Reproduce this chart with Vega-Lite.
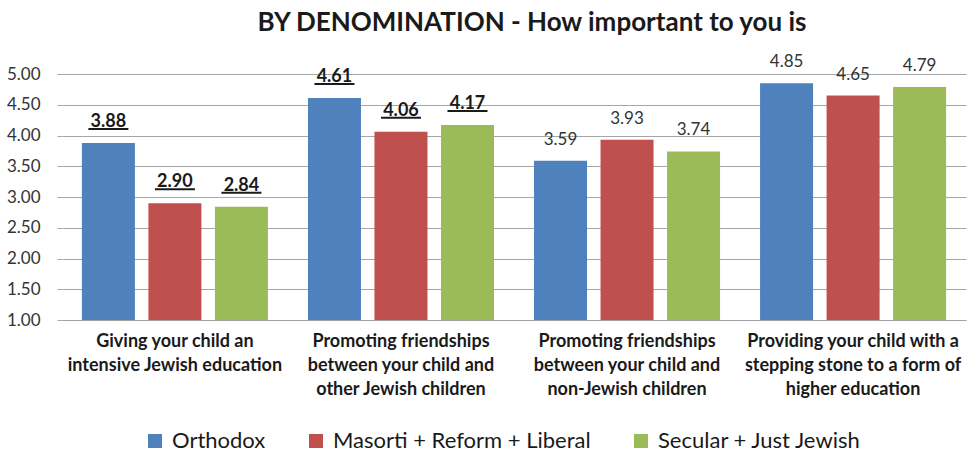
{
  "$schema": "https://vega.github.io/schema/vega-lite/v6.json",
  "autosize": "none",
  "width": 904,
  "height": 246,
  "padding": {"left": 62, "top": 74, "right": 3, "bottom": 132},
  "background": "white",
  "config": {
    "font": "Lato",
    "view": {"stroke": null}
  },
  "title": {
    "text": "BY DENOMINATION - How important to you is",
    "fontSize": 26,
    "fontWeight": "bold",
    "font": "Lato",
    "color": "#1a1a1a",
    "anchor": "middle",
    "dx": 18,
    "offset": 17
  },
  "data": {
    "values": [
      {"category": "Giving your child an intensive Jewish education", "group": "Orthodox", "value": 3.88},
      {"category": "Giving your child an intensive Jewish education", "group": "Masorti + Reform + Liberal", "value": 2.90},
      {"category": "Giving your child an intensive Jewish education", "group": "Secular + Just Jewish", "value": 2.84},
      {"category": "Promoting friendships between your child and other Jewish children", "group": "Orthodox", "value": 4.61},
      {"category": "Promoting friendships between your child and other Jewish children", "group": "Masorti + Reform + Liberal", "value": 4.06},
      {"category": "Promoting friendships between your child and other Jewish children", "group": "Secular + Just Jewish", "value": 4.17},
      {"category": "Promoting friendships between your child and non-Jewish children", "group": "Orthodox", "value": 3.59},
      {"category": "Promoting friendships between your child and non-Jewish children", "group": "Masorti + Reform + Liberal", "value": 3.93},
      {"category": "Promoting friendships between your child and non-Jewish children", "group": "Secular + Just Jewish", "value": 3.74},
      {"category": "Providing your child with a stepping stone to a form of higher education", "group": "Orthodox", "value": 4.85},
      {"category": "Providing your child with a stepping stone to a form of higher education", "group": "Masorti + Reform + Liberal", "value": 4.65},
      {"category": "Providing your child with a stepping stone to a form of higher education", "group": "Secular + Just Jewish", "value": 4.79}
    ]
  },
  "encoding": {
    "x": {
      "field": "category",
      "type": "nominal",
      "sort": null,
      "scale": {"paddingInner": 0.177, "paddingOuter": 0.088},
      "axis": {
        "title": null,
        "labelAngle": 0,
        "ticks": false,
        "domain": true,
        "domainColor": "#A0A0A0",
        "labelFont": "Lato",
        "labelFontWeight": "bold",
        "labelFontSize": 18,
        "labelColor": "#1a1a1a",
        "labelLineHeight": 24,
        "labelPadding": 12,
        "labelLimit": 0,
        "labelExpr": "datum.value == 'Giving your child an intensive Jewish education' ? ['Giving your child an', 'intensive Jewish education'] : datum.value == 'Promoting friendships between your child and other Jewish children' ? ['Promoting friendships', 'between your child and', 'other Jewish children'] : datum.value == 'Promoting friendships between your child and non-Jewish children' ? ['Promoting friendships', 'between your child and', 'non-Jewish children'] : ['Providing your child with a', 'stepping stone to a form of', 'higher education']"
      }
    },
    "xOffset": {
      "field": "group",
      "type": "nominal",
      "sort": ["Orthodox", "Masorti + Reform + Liberal", "Secular + Just Jewish"],
      "scale": {"paddingInner": 0.203, "paddingOuter": 0}
    },
    "y": {
      "field": "value",
      "type": "quantitative",
      "scale": {"domain": [1, 5], "zero": false, "nice": false},
      "axis": {
        "title": null,
        "values": [1, 1.5, 2, 2.5, 3, 3.5, 4, 4.5, 5],
        "format": ".2f",
        "domain": false,
        "grid": true,
        "gridColor": "#A6A6A6",
        "gridWidth": 1,
        "tickColor": "#A6A6A6",
        "tickSize": 5,
        "labelPadding": 17,
        "labelFont": "Lato",
        "labelFontSize": 17,
        "labelColor": "#333333"
      }
    }
  },
  "layer": [
    {
      "mark": {"type": "bar"},
      "encoding": {
        "y2": {"datum": 1},
        "color": {
          "field": "group",
          "type": "nominal",
          "sort": ["Orthodox", "Masorti + Reform + Liberal", "Secular + Just Jewish"],
          "scale": {
            "domain": ["Orthodox", "Masorti + Reform + Liberal", "Secular + Just Jewish"],
            "range": ["#4F81BD", "#C0504D", "#9BBB59"]
          },
          "legend": {
            "title": null,
            "orient": "none",
            "direction": "horizontal",
            "legendX": 82,
            "legendY": 356,
            "padding": 0,
            "symbolType": "square",
            "symbolSize": 196,
            "symbolStrokeWidth": 0,
            "symbolOpacity": 1,
            "labelFont": "Lato",
            "labelFontSize": 22,
            "labelColor": "#1a1a1a",
            "labelOffset": 6,
            "columnPadding": 39,
            "labelLimit": 0
          }
        }
      }
    },
    {
      "transform": [{"filter": {"field": "category", "oneOf": ["Giving your child an intensive Jewish education", "Promoting friendships between your child and other Jewish children"]}}],
      "mark": {"type": "text", "font": "Lato", "fontWeight": "bold", "fontSize": 18, "baseline": "alphabetic", "dy": -16, "color": "#1a1a1a"},
      "encoding": {"text": {"field": "value", "type": "quantitative", "format": ".2f"}}
    },
    {
      "transform": [{"filter": {"field": "category", "oneOf": ["Giving your child an intensive Jewish education", "Promoting friendships between your child and other Jewish children"]}}],
      "mark": {"type": "tick", "orient": "horizontal", "size": 40, "thickness": 2, "yOffset": -14, "color": "#1a1a1a", "opacity": 1},
      "encoding": {}
    },
    {
      "transform": [{"filter": {"not": {"field": "category", "oneOf": ["Giving your child an intensive Jewish education", "Promoting friendships between your child and other Jewish children"]}}}],
      "mark": {"type": "text", "font": "Lato", "fontSize": 17, "baseline": "alphabetic", "dy": -16, "color": "#333333"},
      "encoding": {"text": {"field": "value", "type": "quantitative", "format": ".2f"}}
    }
  ]
}
